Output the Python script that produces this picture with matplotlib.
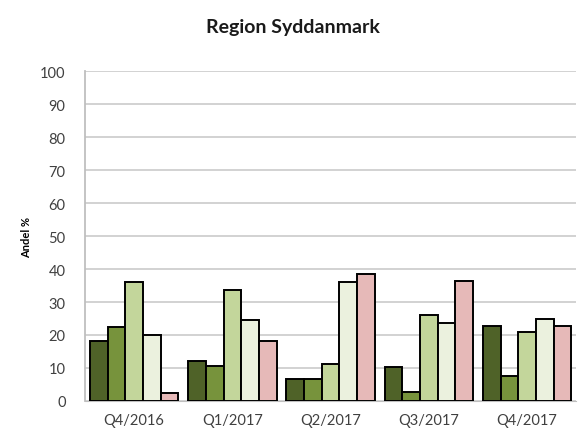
import matplotlib
matplotlib.use("Agg")
import matplotlib.pyplot as plt
import numpy as np

plt.rcParams['font.family'] = ['Lato', 'DejaVu Sans']

quarters = ["Q4/2016", "Q1/2017", "Q2/2017", "Q3/2017", "Q4/2017"]
# five series per quarter
serie_1 = [18.3, 12.2, 6.7, 10.2, 22.6]
serie_2 = [22.3, 10.5, 6.7, 2.6, 7.5]
serie_3 = [36.0, 33.6, 11.1, 26.2, 21.0]
serie_4 = [20.0, 24.5, 36.2, 23.6, 25.0]
serie_5 = [2.3, 18.3, 38.5, 36.5, 22.6]

colors = ['#4f6228', '#77933c', '#c3d69b', '#ebf1de', '#e6b9b8']

fig = plt.figure(figsize=(5.78, 4.35), dpi=100)
ax = fig.add_axes([0.147, 0.076, 0.85, 0.758])

xpos = np.arange(len(quarters))
width = 0.18
all_series = [serie_1, serie_2, serie_3, serie_4, serie_5]
for i in range(len(all_series)):
    ax.bar(xpos + (i - 2) * width, all_series[i], width=width, color=colors[i],
           edgecolor='black', linewidth=1.4, zorder=3)

ax.set_xlim(-0.5, 4.5)
ax.set_ylim(0, 100)
ax.set_yticks(np.arange(0, 101, 10))
ax.set_xticks(xpos)
ax.set_xticklabels(quarters, fontsize=10.5, color='#404040')
ax.tick_params(axis='y', labelsize=10.5, colors='#404040', length=0, pad=14)
ax.tick_params(axis='x', length=0, pad=9)

ax.grid(axis='y', color='#cfcfcf', linewidth=1.3, zorder=0)
for s in ['top', 'right']:
    ax.spines[s].set_visible(False)
ax.spines['left'].set_color('#bfbfbf')
ax.spines['left'].set_linewidth(1.3)
ax.spines['bottom'].set_color('#bfbfbf')

ax.set_ylabel("Andel %", fontsize=8, fontweight='bold')
ax.yaxis.set_label_coords(-0.108, 0.5)
fig.text(0.507, 0.924, "Region Syddanmark", ha='center', fontsize=14, fontweight='bold', color='#1a1a1a')

fig.savefig("out.png", dpi=100)
